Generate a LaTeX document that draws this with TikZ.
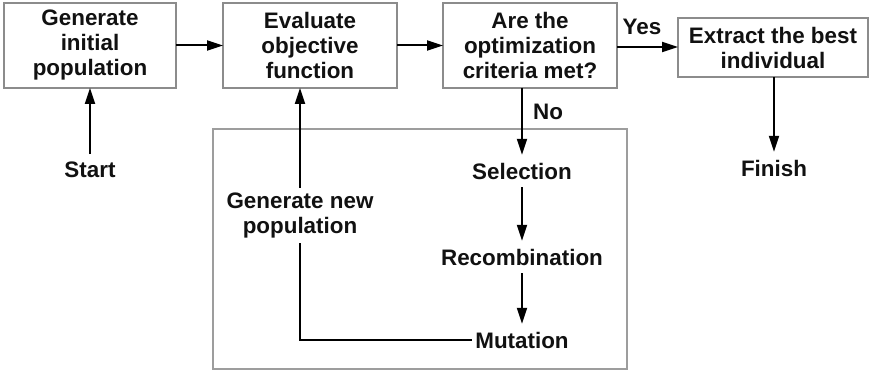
\documentclass[tikz,border=0pt]{standalone}
\usepackage{fontspec}
\setmainfont{Liberation Sans}
\usetikzlibrary{arrows.meta}
\definecolor{boxgray}{HTML}{8C8C8C}
\definecolor{txt}{HTML}{111111}
\begin{document}
\begin{tikzpicture}[x=1pt,y=-1pt,
  every node/.style={font=\fontsize{22.4}{25}\selectfont\bfseries, text=txt, align=center},
  box/.style={draw=boxgray, line width=2pt, inner sep=0pt, outer sep=0pt},
  lbl/.style={inner xsep=3pt, inner ysep=8pt, outer sep=0pt},
  arr/.style={line width=2pt, -{Triangle[length=16pt,width=10pt]}},
  ln/.style={line width=2pt}]
\useasboundingbox (0,0) rectangle (869,371);
\fill[white] (0,0) rectangle (869,371);
% group frame
\draw[draw=boxgray!85, line width=1.7pt] (213,129) rectangle (627,369);
% boxes
\node[box, minimum width=172pt, minimum height=85pt] (b1) at (90,45.5) {Generate\\initial\\population};
\node[box, minimum width=174pt, minimum height=85pt] (b2) at (310,45.5) {Evaluate\\objective\\function};
\node[box, minimum width=174pt, minimum height=85pt] (b3) at (530,45.5) {Are the\\optimization\\criteria met?};
\node[box, minimum width=190pt, minimum height=59pt] (b4) at (773,47.5) {Extract the best\\individual};
% labels
\node[lbl] (start) at (90,170) {Start};
\node[lbl] (finish) at (774,168) {Finish};
\node[lbl] (sel) at (522,171) {Selection};
\node[lbl] (rec) at (522,257) {Recombination};
\node[lbl] (mut) at (522,340) {Mutation};
\node[lbl, inner ysep=5pt] (gnp) at (300,215.5) {Generate new\\population};
\node[inner sep=0pt] (yes) at (642,27) {Yes};
\node[inner sep=0pt] (no) at (548,112) {No};
% connectors
\draw[arr] (b1.east) -- (b2.west);
\draw[arr] (b2.east) -- (b3.west);
\draw[arr] (b3.east |- 0,47) -- (b4.west |- 0,47);
\draw[arr] (start.north) -- (b1.south);
\draw[arr] (b4.south -| finish.north) -- (finish.north);
\draw[arr] (b3.south -| sel.north) -- (sel.north);
\draw[arr] (sel.south) -- (rec.north);
\draw[arr] (rec.south) -- (mut.north);
\draw[ln] (gnp.south) |- (mut.west);
\draw[arr] (gnp.north) -- (gnp.north |- b2.south);
\end{tikzpicture}
\end{document}
